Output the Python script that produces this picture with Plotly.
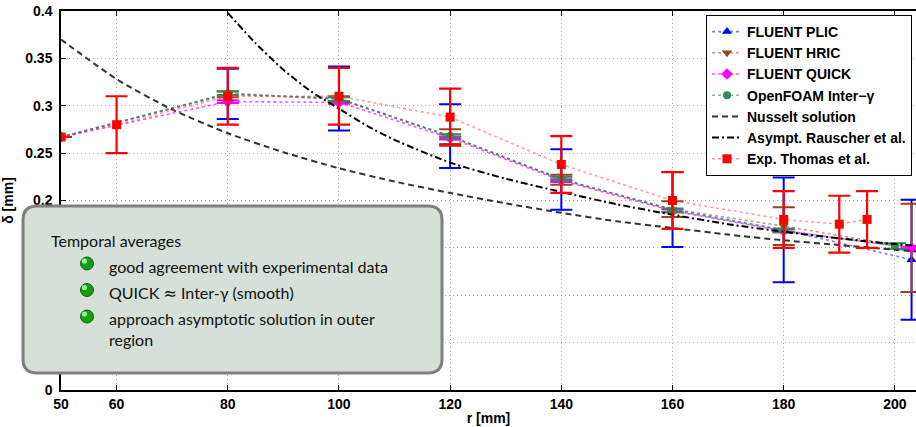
import plotly.graph_objects as go

# ---------------- data ----------------
r_exp = [50, 60, 80, 100, 120, 140, 160, 180, 190, 195]
d_exp = [0.267, 0.280, 0.310, 0.310, 0.288, 0.238, 0.200, 0.180, 0.175, 0.180]
e_exp = [0.0, 0.03, 0.03, 0.03, 0.03, 0.03, 0.03, 0.03, 0.03, 0.03]

r_sim = [50, 80, 100, 120, 140, 160, 180, 203]
d_plic = [0.267, 0.3125, 0.3077, 0.268, 0.2222, 0.1905, 0.169, 0.1375]
e_plic = [0.0, 0.0265, 0.0338, 0.0337, 0.032, 0.0395, 0.0552, 0.0633]
d_hric = [0.267, 0.312, 0.307, 0.2675, 0.2219, 0.1908, 0.173, 0.150]
e_hric = [0.0, 0.003, 0.003, 0.0078, 0.0053, 0.0083, 0.020, 0.0465]
d_quick = [0.267, 0.3044, 0.3036, 0.266, 0.221, 0.189, 0.168, 0.1498]
e_quick = [0.0, 0.0015, 0.0015, 0.0015, 0.0015, 0.0015, 0.0015, 0.0015]

r_of = [50, 80, 100, 120, 140, 160, 180, 200]
d_of = [0.267, 0.3133, 0.307, 0.268, 0.223, 0.1895, 0.1684, 0.152]
e_of = [0.0, 0.002, 0.002, 0.002, 0.002, 0.002, 0.002, 0.003]

r_nu = [50, 60, 70, 80, 90, 100, 110, 120, 130, 140, 150, 160, 170, 180, 190, 200, 204]
d_nu = [0.370, 0.328, 0.296, 0.271, 0.251, 0.234, 0.220, 0.208, 0.197, 0.187,
        0.178, 0.171, 0.164, 0.158, 0.153, 0.148, 0.146]

r_as = [80, 85, 90, 95, 100, 105, 110, 120, 130, 140, 150, 160, 170, 180, 190, 200, 204]
d_as = [0.398, 0.366, 0.338, 0.315, 0.297, 0.279, 0.264, 0.240, 0.223, 0.209,
        0.196, 0.185, 0.175, 0.167, 0.160, 0.154, 0.152]

x_ticks = [50, 60, 80, 100, 120, 140, 160, 180, 200]
y_ticks = [0, 0.05, 0.1, 0.15, 0.2, 0.25, 0.3, 0.35, 0.4]
y_ticklabels = ["0", "0.05", "0.1", "0.15", "0.2", "0.25", "0.3", "0.35", "0.4"]

box_title = "Temporal averages"
box_items = ["good agreement with experimental data",
             "QUICK <span style='font-family:DejaVu Sans'>\u2248</span> Inter-\u03b3 (smooth)",
             "approach asymptotic solution in outer<br>region"]

# ---------------- geometry (page pixels) ----------------
W, H = 916, 427
PLOT_L, PLOT_T, PLOT_R, PLOT_B = 61, 11, 916, 390
ML, MT = PLOT_L, PLOT_T
MR, MB = W - PLOT_R, H - PLOT_B
PW, PH = PLOT_R - PLOT_L, PLOT_B - PLOT_T

def px(x):
    return (x - PLOT_L) / PW

def py(y):
    return (PLOT_B - y) / PH

fig = go.Figure()

def sim_trace(name, x, y, e, color, linecolor, symbol, size):
    return go.Scatter(
        x=x, y=y, name=name, mode="lines+markers",
        line=dict(color=linecolor, width=1.6, dash="dot"),
        marker=dict(color=color, symbol=symbol, size=size, line=dict(width=0)),
        error_y=dict(type="data", array=e, visible=True, color=color,
                     thickness=2, width=11),
    )

fig.add_trace(sim_trace("FLUENT PLIC", r_sim, d_plic, e_plic, "#0000ff",
                        "rgba(40,60,255,0.65)", "triangle-up", 9))
fig.add_trace(sim_trace("FLUENT HRIC", r_sim, d_hric, e_hric, "#9c4416",
                        "rgba(160,82,45,0.6)", "triangle-down", 9))
fig.add_trace(sim_trace("FLUENT QUICK", r_sim, d_quick, e_quick, "#ff00ff",
                        "rgba(255,0,255,0.7)", "diamond", 9))
fig.add_trace(sim_trace("OpenFOAM Inter\u2212\u03b3", r_of, d_of, e_of, "#2e8b57",
                        "rgba(46,139,87,0.6)", "circle", 8))

fig.add_trace(go.Scatter(
    x=r_nu, y=d_nu, name="Nusselt solution", mode="lines",
    line=dict(color="#333333", width=2, dash="6px,4px", shape="spline", smoothing=0.6),
))
fig.add_trace(go.Scatter(
    x=r_as, y=d_as, name="Asympt. Rauscher et al.", mode="lines",
    line=dict(color="#000000", width=2, dash="7px,3px,2px,3px", shape="spline", smoothing=0.6),
))
fig.add_trace(go.Scatter(
    x=r_exp, y=d_exp, name="Exp. Thomas et al.", mode="lines+markers",
    line=dict(color="rgba(255,60,60,0.5)", width=1.6, dash="dot"),
    marker=dict(color="#ff0000", symbol="square", size=9, line=dict(width=0)),
    error_y=dict(type="data", array=e_exp, visible=True, color="#ff0000",
                 thickness=2.2, width=11),
))

tickfont = dict(family="Liberation Sans, Arial, sans-serif", size=14,
                color="black", weight="bold")

fig.update_layout(
    width=W, height=H,
    margin=dict(l=ML, r=MR, t=MT, b=MB, pad=0, autoexpand=False),
    paper_bgcolor="white", plot_bgcolor="white",
    showlegend=True,
    legend=dict(
        x=px(912), y=py(15), xanchor="right", yanchor="top",
        bgcolor="white", bordercolor="black", borderwidth=1,
        font=dict(family="Liberation Sans, Arial, sans-serif", size=14,
                  color="black", weight="bold"),
        tracegroupgap=0, itemwidth=30,
    ),
    xaxis=dict(
        range=[50, 203.8], tickvals=x_ticks, ticktext=[str(v) for v in x_ticks],
        ticks="inside", ticklen=5, tickwidth=1, tickcolor="black",
        showline=True, linecolor="black", linewidth=1.5, mirror="ticks",
        showgrid=True, gridcolor="#a8a8a8", gridwidth=1, griddash="1px,3px",
        zeroline=False, tickfont=tickfont, automargin=False,
        title=dict(text="r [mm]", font=tickfont, standoff=3),
    ),
    yaxis=dict(
        range=[0, 0.4], tickvals=y_ticks, ticktext=y_ticklabels,
        ticks="inside", ticklen=5, tickwidth=1, tickcolor="black",
        showline=True, linecolor="black", linewidth=1.5, mirror=False,
        showgrid=True, gridcolor="#a8a8a8", gridwidth=1, griddash="1px,3px",
        zeroline=False, tickfont=tickfont, ticklabelstandoff=4, automargin=False,
        title=dict(text="\u03b4 [mm]", font=tickfont, standoff=8),
    ),
)

# ---------------- rounded info box ----------------
x0, x1 = px(23), px(442)
y0, y1 = py(373), py(206)
rx, ry = 14 / PW, 14 / PH
path = (f"M {x0+rx},{y1} L {x1-rx},{y1} Q {x1},{y1} {x1},{y1-ry} "
        f"L {x1},{y0+ry} Q {x1},{y0} {x1-rx},{y0} L {x0+rx},{y0} "
        f"Q {x0},{y0} {x0},{y0+ry} L {x0},{y1-ry} Q {x0},{y1} {x0+rx},{y1} Z")
shapes = [dict(type="path", path=path, xref="paper", yref="paper",
               fillcolor="#d6dfd8", line=dict(color="#7f7f7f", width=3),
               layer="above")]

bullet_y = [263.5, 290, 316.5]
for by in bullet_y:
    R = 6.5
    shapes.append(dict(type="circle", xref="paper", yref="paper",
                       x0=px(87 - R), x1=px(87 + R), y0=py(by + R), y1=py(by - R),
                       fillcolor="#12a012", line=dict(color="#0b5e0b", width=1),
                       layer="above"))
    r2 = 2.6
    shapes.append(dict(type="circle", xref="paper", yref="paper",
                       x0=px(84.5 - r2), x1=px(84.5 + r2), y0=py(by - 2.5 + r2),
                       y1=py(by - 2.5 - r2),
                       fillcolor="#9ef09e", line=dict(width=0), layer="above"))
fig.update_layout(shapes=shapes)

boxfont = dict(family="Lato, DejaVu Sans, sans-serif", size=16, color="#111111")
ann = [dict(x=px(49), y=py(240), xref="paper", yref="paper", text=box_title,
            showarrow=False, xanchor="left", yanchor="middle", font=boxfont)]
text_y = [266.5, 293, 328.5]
for t, ty in zip(box_items, text_y):
    ann.append(dict(x=px(107), y=py(ty), xref="paper", yref="paper", text=t,
                    showarrow=False, xanchor="left", yanchor="middle",
                    align="left", font=boxfont))
fig.update_layout(annotations=ann)

# remove the default 8 px page margin so the figure fills the window exactly
fig.write_html("out.html", config={"displayModeBar": False},
               post_script="document.body.style.margin='0';")
